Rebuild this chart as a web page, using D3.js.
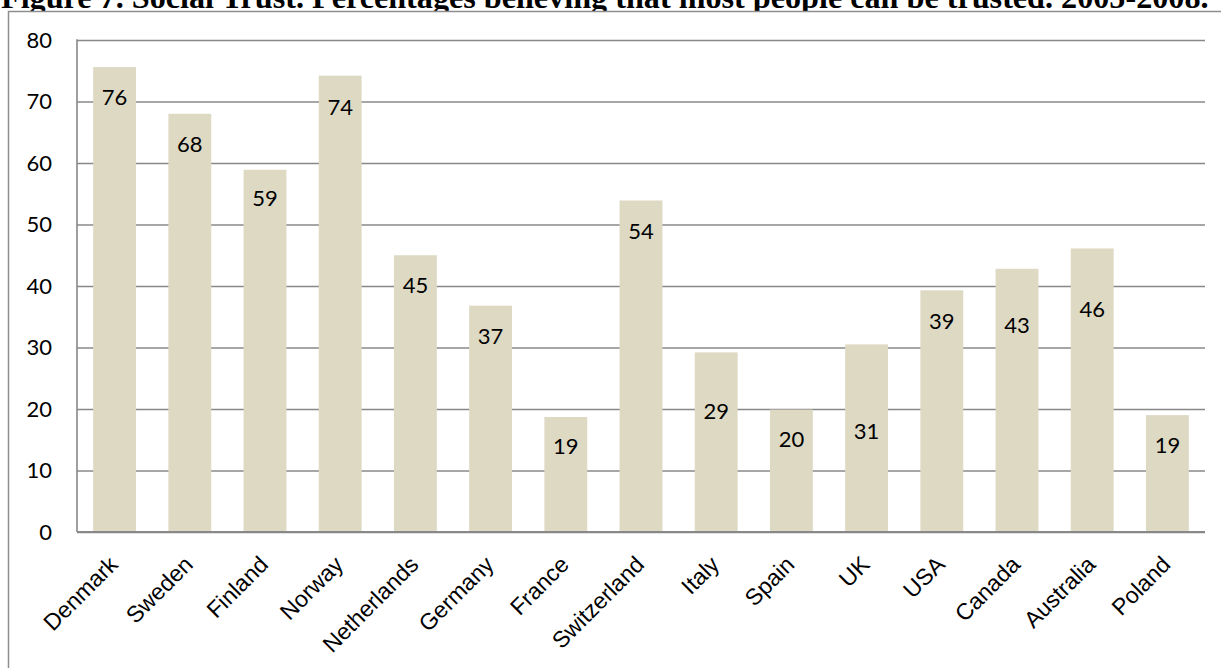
<!DOCTYPE html>
<html>
<head>
<meta charset="utf-8">
<script src="https://cdn.jsdelivr.net/npm/d3@7"></script>
<style>
  body { margin: 0; background: #fff; }
  svg { display: block; }
</style>
</head>
<body>
<svg id="chart" width="1221" height="668"></svg>
<script>
// Share of people who say most people can be trusted (%), 2005-2008
const countries = ["Denmark", "Sweden", "Finland", "Norway", "Netherlands", "Germany", "France",
                   "Switzerland", "Italy", "Spain", "UK", "USA", "Canada", "Australia", "Poland"];
const trust = [75.6, 68.0, 58.9, 74.2, 45.0, 36.8, 18.7, 53.9, 29.2, 19.9, 30.5, 39.3, 42.8, 46.1, 19.0];
const yTicks = [0, 10, 20, 30, 40, 50, 60, 70, 80];
const titleText = "Figure 7. Social Trust. Percentages believing that most people can be trusted. 2005-2008.";

const W = 1221, H = 668;
const m = { left: 77, right: 1205, top: 40, bottom: 532 };
const gridColor = "#888888";
const barColor = "#DDD9C3";
const numFont = "Lato, 'Open Sans', sans-serif";
const catFont = "'Liberation Sans', Arial, sans-serif";

// vertical nudge (px below the bar top) for each value label
const labelDrop = [29, 30, 28, 31, 29, 30, 29, 30, 58, 29, 86, 30, 56, 60, 29];

const svg = d3.select("#chart");
svg.append("rect").attr("width", W).attr("height", H).attr("fill", "#fff");

// caption, stretched to the page width
const title = svg.append("text")
  .attr("x", 1).attr("y", 7.5)
  .attr("font-family", "'Liberation Serif', 'Times New Roman', serif")
  .attr("font-weight", "bold")
  .attr("font-size", 30)
  .attr("fill", "#000")
  .text(titleText);
const tw = title.node().getComputedTextLength();
title.attr("font-size", 30 * 1208 / tw);

// chart frame (covers the lower part of the caption)
svg.append("rect")
  .attr("x", 8.5).attr("y", 11.5)
  .attr("width", W).attr("height", H)
  .attr("fill", "#fff")
  .attr("stroke", "#8e8e8e").attr("stroke-width", 1.5);

const x = d3.scaleBand().domain(countries)
  .range([m.left, m.right])
  .paddingInner(0.43).paddingOuter(0.215);
const y = d3.scaleLinear().domain([0, 80]).range([m.bottom, m.top]);

// horizontal gridlines and value axis labels
const yAxis = svg.append("g")
  .attr("transform", `translate(${m.left},0)`)
  .call(d3.axisLeft(y).tickValues(yTicks).tickSize(-(m.right - m.left)).tickPadding(25));
yAxis.select(".domain").remove();
yAxis.selectAll(".tick line").attr("stroke", gridColor).attr("stroke-width", 1.6);
yAxis.selectAll(".tick text")
  .attr("font-family", numFont).attr("font-size", 22).attr("fill", "#000");

// bars
svg.append("g").selectAll("rect")
  .data(countries)
  .join("rect")
  .attr("x", d => x(d))
  .attr("width", x.bandwidth())
  .attr("y", (d, i) => y(trust[i]))
  .attr("height", (d, i) => y(0) - y(trust[i]))
  .attr("fill", barColor);

// axis lines
svg.append("line")
  .attr("x1", m.left).attr("x2", m.left).attr("y1", m.top - 0.8).attr("y2", m.bottom)
  .attr("stroke", gridColor).attr("stroke-width", 1.6);
svg.append("line")
  .attr("x1", m.left).attr("x2", m.right).attr("y1", m.bottom).attr("y2", m.bottom)
  .attr("stroke", gridColor).attr("stroke-width", 2);

// value labels inside the bars
svg.append("g").selectAll("text")
  .data(countries)
  .join("text")
  .attr("x", d => x(d) + x.bandwidth() / 2)
  .attr("y", (d, i) => y(trust[i]) + labelDrop[i])
  .attr("text-anchor", "middle")
  .attr("dominant-baseline", "central")
  .attr("font-family", numFont).attr("font-size", 22).attr("fill", "#000")
  .text((d, i) => d3.format(".0f")(trust[i]));

// rotated category labels
const xAxis = svg.append("g")
  .attr("transform", `translate(0,${m.bottom})`)
  .call(d3.axisBottom(x).tickSize(0));
xAxis.select(".domain").remove();
xAxis.selectAll(".tick text")
  .attr("y", 0).attr("dy", 0)
  .attr("text-anchor", "end")
  .attr("transform", "translate(4.5,34) rotate(-45)")
  .attr("font-family", catFont).attr("font-size", 23).attr("fill", "#000");
</script>
</body>
</html>
